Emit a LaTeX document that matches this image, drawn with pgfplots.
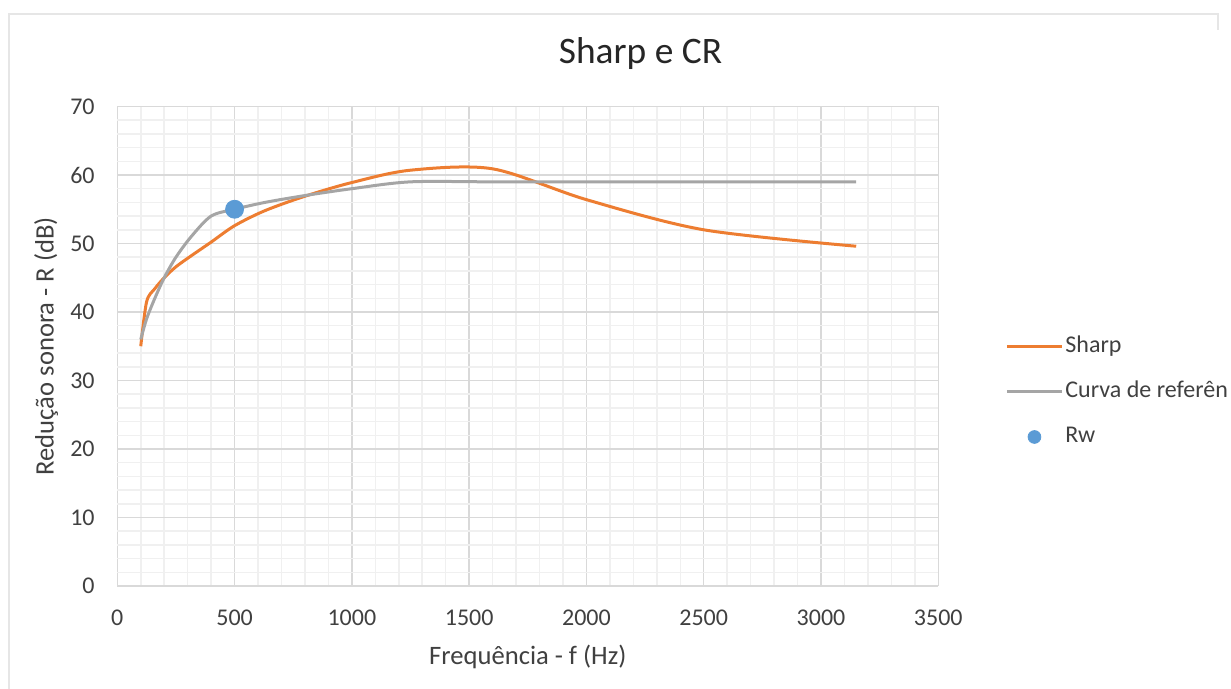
\documentclass[border=0pt]{standalone}
\usepackage{fontspec}
\setmainfont{Carlito}
\usepackage{pgfplots}
\pgfplotsset{compat=1.18}
\definecolor{sharp}{HTML}{ED7D31}
\definecolor{curva}{HTML}{A5A5A5}
\definecolor{rw}{HTML}{5B9BD5}
\definecolor{majgrid}{HTML}{D9D9D9}
\definecolor{mingrid}{HTML}{F0F0F0}
\definecolor{txt}{HTML}{404040}
\definecolor{moldura}{HTML}{E6E6E6}

\begin{document}
\begin{tikzpicture}
% 1 px of the reference = 0.5pt
\path[use as bounding box] (0pt,0pt) rectangle (615.5pt,344.5pt);
\draw[moldura, line width=1pt] (4.65pt,0pt) -- (4.65pt,337.5pt) -- (609pt,337.5pt) -- (609pt,329.5pt);
\node[anchor=base, font=\fontsize{18.7}{22}\selectfont, text=black!85] at (320.25pt,312.8pt) {Sharp e CR};
\begin{axis}[
  at={(58.65pt,51.5pt)}, anchor=south west,
  scale only axis, width=410.5pt, height=239.75pt,
  xmin=0, xmax=3500, ymin=0, ymax=70,
  xtick={0,500,...,3500}, ytick={0,10,...,70},
  minor x tick num=4, minor y tick num=4,
  grid=both,
  major grid style={majgrid, line width=0.75pt},
  minor grid style={mingrid, line width=0.75pt},
  axis line style={draw=none},
  major tick length=0pt, minor tick length=0pt,
  tick label style={font=\fontsize{12}{14}\selectfont, text=txt, inner sep=0pt},
  xticklabel shift=12pt, yticklabel shift=11.15pt,
  /pgf/number format/assume math mode=true,
  scaled ticks=false, /pgf/number format/1000 sep={},
  label style={font=\fontsize{13.3}{16}\selectfont, text=txt},
  xlabel={Frequência - f (Hz)},
  xlabel style={at={(axis description cs:0.5,-0.16476)}, anchor=base},
  ylabel={Redução sonora - R (dB)},
  ylabel style={at={(axis description cs:-0.07759,0.5)}, anchor=base},
  legend cell align=left,
  legend style={at={(axis description cs:1.0813,0.4046)}, anchor=west,
    draw=none, fill=none, inner sep=0pt,
    font=\fontsize{12}{14}\selectfont, text=txt, row sep=11.5pt,
    nodes={inner sep=0pt, text height=8.5pt, text depth=2.5pt},
    /tikz/every odd column/.append style={column sep=1pt}},
  legend image code/.code={\draw[mark repeat=2,mark phase=2,#1] plot coordinates {(0pt,0pt) (13.75pt,0pt) (27.5pt,0pt)};},
]
% Sharp
\addplot[sharp, line width=1.5pt, smooth, no markers] coordinates {
(100,35.0) (125,41.5) (160,43.4) (200,45.0) (250,46.6) (315,48.2) (400,50.2) (500,52.6)
(630,54.8) (800,56.9) (1000,58.9) (1250,60.7) (1600,60.9) (2000,56.4) (2500,52.0) (3150,49.6)};
% Curva de referencia
\addplot[curva, line width=1.5pt, smooth, no markers] coordinates {
(100,36) (125,39) (160,42) (200,45) (250,48) (315,51) (400,54) (500,55)
(630,56) (800,57) (1000,58) (1250,59) (1600,59) (2000,59) (2500,59) (3150,59)};
% Rw
\addplot[only marks, mark=*, mark size=4.5pt, color=rw, mark options={draw=rw, fill=rw},
  legend image post style={mark size=3.2pt}]
  coordinates {(500,55)};
\legend{Sharp, Curva de referên, Rw}
\end{axis}
\end{tikzpicture}
\end{document}
